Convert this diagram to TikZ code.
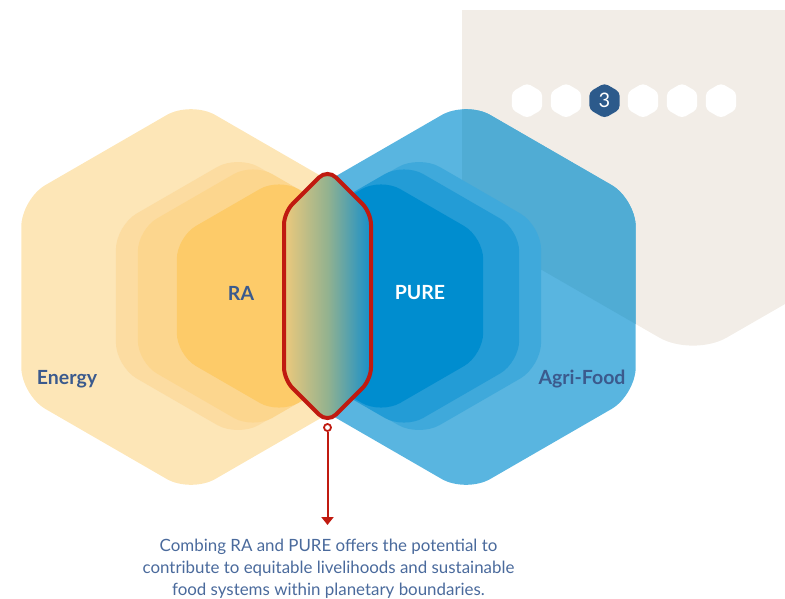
\documentclass[tikz,border=0pt]{standalone}
\usepackage{fontspec}
\setmainfont{Lato}
\usetikzlibrary{arrows.meta}

\definecolor{panel}{HTML}{F2EDE7}
\definecolor{yelA}{HTML}{FDE6B7}
\definecolor{yelB}{HTML}{FCDCA1}
\definecolor{yelC}{HTML}{FCD68E}
\definecolor{yelD}{HTML}{FDCB69}
\definecolor{bluA}{HTML}{59B5E0}
\definecolor{bluAdeep}{HTML}{50ACD4}
\definecolor{bluB}{HTML}{3FA9DB}
\definecolor{bluC}{HTML}{239CD6}
\definecolor{bluD}{HTML}{008DCF}
\definecolor{lensred}{HTML}{C01A10}
\definecolor{lensL}{HTML}{EDC97C}
\definecolor{lensM}{HTML}{93B28F}
\definecolor{lensR}{HTML}{168FCB}
\definecolor{navy}{HTML}{3B5A8D}
\definecolor{bodyblue}{HTML}{4A6A9C}
\definecolor{stepnavy}{HTML}{2C5A8B}

% pointy-top hexagon: centre x, centre y, circumradius, corner rounding
\newcommand\hexagonpath[4]{[rounded corners=#4pt]
  ({#1-0.8660254*#3},#2) -- ({#1-0.8660254*#3},{#2-0.5*#3}) -- (#1,{#2-#3})
  -- ({#1+0.8660254*#3},{#2-0.5*#3}) -- ({#1+0.8660254*#3},{#2+0.5*#3})
  -- (#1,{#2+#3}) -- ({#1-0.8660254*#3},{#2+0.5*#3}) -- cycle}

% background panel: lower half of a large hexagon, cut flat at the top
\newcommand\panelpath{[rounded corners=39pt] (462,-60) -- (462,224) -- (693,357)
  -- (924,224) -- (924,-60) -- cycle}

\tikzset{
  lab/.style={font=\fontsize{19.5}{22}\selectfont\bfseries, text=navy, inner sep=0pt},
  body/.style={font=\fontsize{16.9}{20}\selectfont, text=bodyblue, inner sep=0pt, anchor=base},
  stepdot/.style={fill=white},
}

\begin{document}
\begin{tikzpicture}[x=1pt, y=-1pt]
\useasboundingbox (0,0) rectangle (785,598);

% background panel
\begin{scope}
  \clip (0,10) rectangle (785,598);
  \fill[panel] \panelpath;
\end{scope}

% Energy hexagons
\fill[yelA] \hexagonpath{191}{297}{196}{28};
\fill[yelB] \hexagonpath{238}{296}{141}{24};
\fill[yelC] \hexagonpath{253}{296}{133}{22};
\fill[yelD] \hexagonpath{279}{296}{118}{22};

% Agri-Food hexagons
\fill[bluA] \hexagonpath{466}{297}{196}{28};
\begin{scope}
  \clip \hexagonpath{466}{297}{196}{28};
  \clip (0,10) rectangle (785,598);
  \fill[bluAdeep] \panelpath;
\end{scope}
\begin{scope}
  \clip (327.5,0) rectangle (785,598);
  \fill[bluB] \hexagonpath{419}{296}{141}{24};
  \fill[bluC] \hexagonpath{404}{296}{133}{22};
  \fill[bluD] \hexagonpath{381}{296}{118}{22};
\end{scope}

% overlap lens
\draw[lensred, line width=4pt, rounded corners=12pt,
      left color=lensL, right color=lensR, middle color=lensM]
  (284,296) -- (284,212.5) -- (327.5,169) -- (371,212.5) -- (371,379.5)
  -- (327.5,423) -- (284,379.5) -- cycle;

% pointer
\node[circle, draw=lensred, fill=white, line width=1.8pt, inner sep=0pt,
      minimum size=7pt] (knob) at (327.5,427.5) {};
\coordinate (tip) at (327.5,525);
\draw[lensred, line width=2pt, -{Triangle[width=12pt,length=8pt]}] (knob) -- (tip);

% labels
\node[lab] (energy) at (67,379) {Energy};
\node[lab] (agri) at (582,379) {Agri-Food};
\node[lab] (ra) at (241,293) {RA};
\node[lab, text=white] (pure) at (420,293) {PURE};

% step indicator
\foreach \i/\x in {1/527,2/566,4/643,5/682,6/721}
  \fill[stepdot] \hexagonpath{\x}{100.7}{17.5}{4};
\fill[stepnavy] \hexagonpath{604.5}{100.7}{17.5}{4};
\node[text=white, font=\fontsize{20}{20}\selectfont, inner sep=0pt] (stepthree) at (604.5,100.7) {3};

% caption
\node[body] (t1) at (328.5,551) {Combing RA and PURE offers the potential to};
\node[body] (t2) at (328.5,573) {contribute to equitable livelihoods and sustainable};
\node[body] (t3) at (328.5,595) {food systems within planetary boundaries.};
\end{tikzpicture}
\end{document}
